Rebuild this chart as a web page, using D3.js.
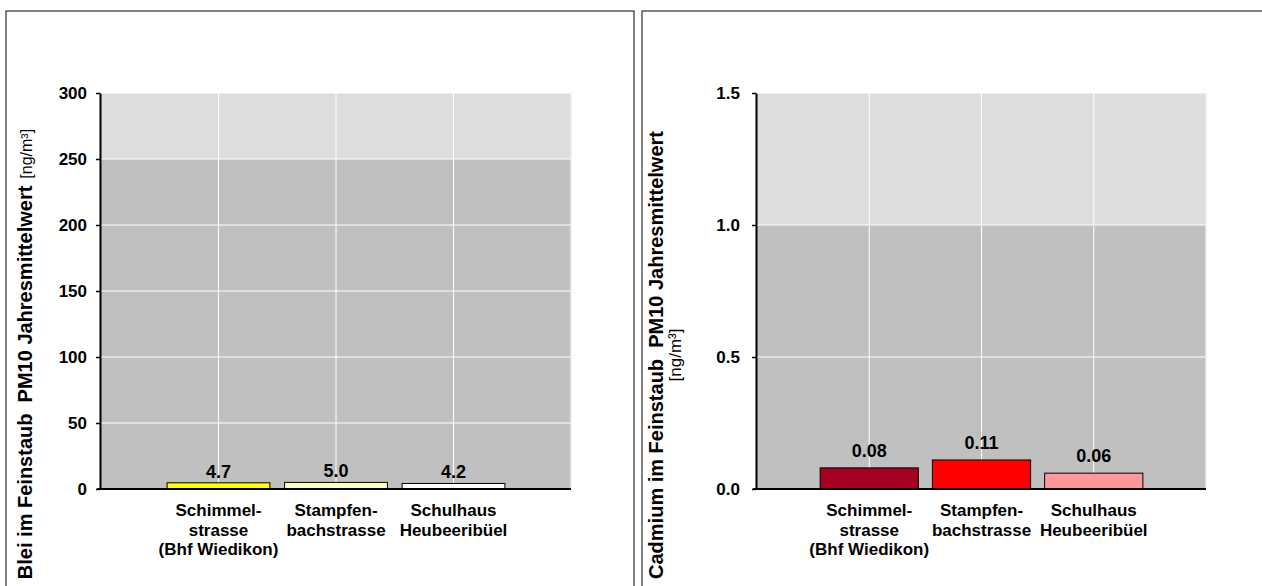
<!DOCTYPE html>
<html>
<head>
<meta charset="utf-8">
<script src="https://cdn.jsdelivr.net/npm/d3@7"></script>
<style>
  body { margin: 0; background: #fff; }
  svg { display: block; }
  text { font-family: "Liberation Sans", Arial, sans-serif; }
</style>
</head>
<body>
<svg id="chart" width="1262" height="586"></svg>
<script>
// Measuring stations (x categories) and their wrapped axis labels
const stations = ["Schimmelstrasse", "Stampfenbachstrasse", "Schulhaus Heubeeribüel"];
const stationLabelLines = [
  ["Schimmel-", "strasse", "(Bhf Wiedikon)"],
  ["Stampfen-", "bachstrasse"],
  ["Schulhaus", "Heubeeribüel"]
];

// Annual means of lead and cadmium in PM10 [ng/m³]
const bleiValues = [4.7, 5.0, 4.2];
const cadmiumValues = [0.08, 0.11, 0.06];

// Tick labels of the value axes
const bleiTicks = [0, 50, 100, 150, 200, 250, 300];
const cadmiumTicks = [0.0, 0.5, 1.0, 1.5];

// Level above which the plot background turns lighter
const bleiBandBreak = 250;
const cadmiumBandBreak = 1.0;

// Bar fills per station
const bleiColors = ["#ffff00", "#ffffc0", "#ffffff"];
const cadmiumColors = ["#a50021", "#ff0000", "#ff9999"];

const svg = d3.select("#chart");

function drawPanel(p) {
  const g = svg.append("g");

  // panel frame
  g.append("rect")
    .attr("x", p.frame[0]).attr("y", p.frame[1])
    .attr("width", p.frame[2]).attr("height", p.frame[3])
    .attr("fill", "none").attr("stroke", "#303030").attr("stroke-width", 1.2);

  const y = d3.scaleLinear().domain([0, d3.max(p.ticks)]).range([489, 93]);
  const x = d3.scalePoint().domain(stations).range([p.x0, p.x1]).padding(1);
  const bw = x.step() * 0.875;

  // background bands
  g.append("rect")
    .attr("x", p.x0).attr("width", p.x1 - p.x0)
    .attr("y", y(d3.max(p.ticks))).attr("height", y(p.bandBreak) - y(d3.max(p.ticks)))
    .attr("fill", "#dddddd");
  g.append("rect")
    .attr("x", p.x0).attr("width", p.x1 - p.x0)
    .attr("y", y(p.bandBreak)).attr("height", y(0) - y(p.bandBreak))
    .attr("fill", "#c0c0c0");

  // white grid
  g.append("g").selectAll("line").data(p.ticks.filter(t => t > 0)).join("line")
    .attr("x1", p.x0).attr("x2", p.x1)
    .attr("y1", d => y(d)).attr("y2", d => y(d))
    .attr("stroke", "#ffffff").attr("stroke-width", 1);
  g.append("g").selectAll("line").data(stations).join("line")
    .attr("x1", d => x(d)).attr("x2", d => x(d))
    .attr("y1", y(d3.max(p.ticks))).attr("y2", y(0))
    .attr("stroke", "#ffffff").attr("stroke-width", 1);
  g.append("line")
    .attr("x1", p.x1).attr("x2", p.x1)
    .attr("y1", y(d3.max(p.ticks))).attr("y2", y(0))
    .attr("stroke", "#eeeeee").attr("stroke-width", 1.5);

  // bars
  g.append("g").selectAll("rect").data(p.values).join("rect")
    .attr("x", (d, i) => x(stations[i]) - bw / 2)
    .attr("width", bw)
    .attr("y", d => y(d))
    .attr("height", d => y(0) - y(d))
    .attr("fill", (d, i) => p.colors[i])
    .attr("stroke", "#000").attr("stroke-width", 1);

  // value labels
  g.append("g").selectAll("text").data(p.values).join("text")
    .attr("x", (d, i) => x(stations[i]))
    .attr("y", d => y(d) - p.labelGap)
    .attr("text-anchor", "middle")
    .attr("font-weight", "bold").attr("font-size", 18)
    .text(d => p.valueFormat(d));

  // x axis line
  g.append("line")
    .attr("x1", p.x0 - 4).attr("x2", p.x1)
    .attr("y1", y(0)).attr("y2", y(0))
    .attr("stroke", "#000").attr("stroke-width", 2);

  // y axis
  const ax = g.append("g")
    .attr("transform", `translate(${p.x0 - 1},0)`)
    .call(d3.axisLeft(y).tickValues(p.ticks).tickSize(4).tickSizeOuter(0)
      .tickPadding(p.tickPadding).tickFormat(p.tickFormat));
  ax.select(".domain").attr("stroke", "#000").attr("stroke-width", 2);
  ax.selectAll(".tick line").attr("stroke", "#000").attr("stroke-width", 1.5);
  ax.selectAll(".tick text")
    .attr("font-family", "Liberation Sans, Arial, sans-serif")
    .attr("font-weight", "bold").attr("font-size", 17).attr("fill", "#000");

  // station labels
  const lab = g.append("g").selectAll("text").data(stationLabelLines).join("text")
    .attr("text-anchor", "middle")
    .attr("font-weight", "bold").attr("font-size", 17);
  lab.each(function (lines, i) {
    d3.select(this).selectAll("tspan").data(lines).join("tspan")
      .attr("x", x(stations[i]))
      .attr("y", (d, k) => 516 + k * 19.5)
      .text(d => d);
  });

  // axis title
  p.drawTitle(g);
}

drawPanel({
  frame: [6, 11, 628, 600],
  x0: 101, x1: 571,
  ticks: bleiTicks, bandBreak: bleiBandBreak,
  values: bleiValues, colors: bleiColors,
  tickFormat: d3.format("d"), valueFormat: d3.format(".1f"),
  tickPadding: 9, labelGap: 5,
  drawTitle: g => {
    const t = g.append("text")
      .attr("transform", "translate(32,354) rotate(-90)")
      .attr("text-anchor", "middle");
    t.append("tspan").attr("font-weight", "bold").attr("font-size", 20)
      .text("Blei im Feinstaub\u00a0 PM10 Jahresmittelwert");
    t.append("tspan").attr("font-size", 16).attr("dx", 7).text("[ng/m³]");
  }
});

drawPanel({
  frame: [642, 11, 700, 600],
  x0: 757, x1: 1206,
  ticks: cadmiumTicks, bandBreak: cadmiumBandBreak,
  values: cadmiumValues, colors: cadmiumColors,
  tickFormat: d3.format(".1f"), valueFormat: d3.format(".2f"),
  tickPadding: 12, labelGap: 11,
  drawTitle: g => {
    g.append("text")
      .attr("transform", "translate(663,355) rotate(-90)")
      .attr("text-anchor", "middle")
      .attr("font-weight", "bold").attr("font-size", 20)
      .text("Cadmium im Feinstaub\u00a0 PM10 Jahresmittelwert");
    g.append("text")
      .attr("transform", "translate(681,355) rotate(-90)")
      .attr("text-anchor", "middle")
      .attr("font-size", 17)
      .text("[ng/m³]");
  }
});
</script>
</body>
</html>
